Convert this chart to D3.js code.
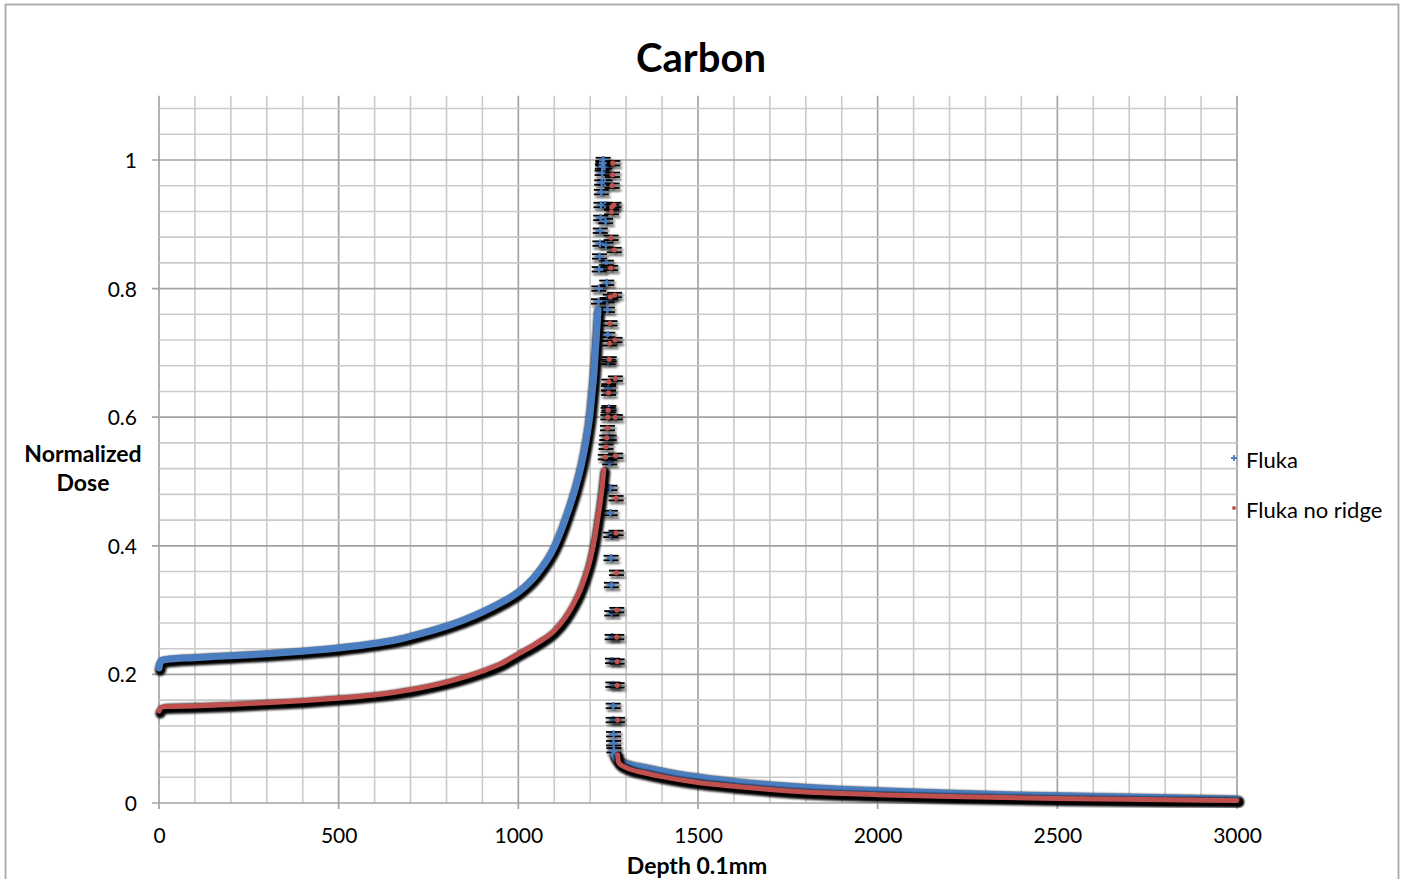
<!DOCTYPE html>
<html>
<head>
<meta charset="utf-8">
<script src="https://cdn.jsdelivr.net/npm/d3@7"></script>
<style>
  html, body { margin: 0; padding: 0; background: #fff; }
  svg { display: block; }
  text { font-family: Lato, "Open Sans", "DejaVu Sans", sans-serif; fill: #000; }
</style>
</head>
<body>
<svg id="chart" width="1404" height="879"></svg>
<script>
// ---- Axis ticks ----
const xTickValues = [0, 500, 1000, 1500, 2000, 2500, 3000];
const yTickValues = [0, 0.2, 0.4, 0.6, 0.8, 1];
const yTickLabels = ["0", "0.2", "0.4", "0.6", "0.8", "1"];

// ---- Series: Fluka ----
// entrance plateau and rise (continuous band of points)
const flukaEntranceDepth = [0, 3, 8, 20, 100, 200, 300, 400, 500, 600, 671, 700, 800, 850, 900, 950, 1000, 1050, 1100, 1135, 1160, 1177, 1190, 1200, 1205, 1210, 1216, 1222];
const flukaEntranceDose  = [0.21, 0.218, 0.222, 0.223, 0.226, 0.229, 0.232, 0.236, 0.241, 0.248, 0.255, 0.259, 0.275, 0.285, 0.297, 0.311, 0.328, 0.355, 0.398, 0.448, 0.492, 0.53, 0.568, 0.607, 0.636, 0.665, 0.715, 0.767];
// individual points around the Bragg peak
const flukaPeakDepth = [1223, 1224, 1225, 1226, 1227, 1228, 1229, 1230, 1231, 1232, 1233, 1234, 1235, 1236,
                        1240, 1241, 1242, 1243, 1244, 1245, 1246, 1247, 1248, 1249, 1250, 1251, 1252, 1253, 1254, 1255, 1256, 1257, 1258, 1259, 1260, 1261, 1262, 1263, 1264, 1264, 1265, 1265, 1266];
const flukaPeakDose  = [0.78, 0.80, 0.83, 0.85, 0.87, 0.89, 0.91, 0.93, 0.95, 0.965, 0.98, 0.99, 0.995, 1.0,
                        0.99, 0.965, 0.93, 0.905, 0.868, 0.84, 0.809, 0.782, 0.767, 0.728, 0.686, 0.645, 0.614, 0.568, 0.53, 0.49, 0.451, 0.417, 0.381, 0.339, 0.295, 0.258, 0.221, 0.184, 0.151, 0.129, 0.107, 0.093, 0.082];
// distal tail
const flukaTailDepth = [1266, 1275, 1290, 1300, 1350, 1400, 1450, 1500, 1600, 1700, 1800, 1900, 2000, 2200, 2400, 2600, 2800, 3000];
const flukaTailDose  = [0.075, 0.067, 0.063, 0.061, 0.055, 0.049, 0.044, 0.040, 0.033, 0.028, 0.024, 0.021, 0.019, 0.015, 0.012, 0.010, 0.008, 0.006];

// ---- Series: Fluka no ridge ----
const noRidgeEntranceDepth = [0, 5, 20, 100, 200, 300, 400, 500, 600, 700, 800, 900, 950, 1000, 1050, 1100, 1130, 1152, 1170, 1186, 1200, 1212, 1222, 1233, 1238];
const noRidgeEntranceDose  = [0.143, 0.148, 0.150, 0.151, 0.153, 0.156, 0.159, 0.163, 0.168, 0.176, 0.188, 0.205, 0.216, 0.232, 0.248, 0.268, 0.288, 0.308, 0.328, 0.352, 0.378, 0.41, 0.445, 0.49, 0.518];
const noRidgePeakDepth = [1242, 1244, 1246, 1248, 1249, 1250, 1251, 1252, 1253, 1254, 1255, 1256, 1257, 1258, 1259, 1260, 1261, 1262, 1263,
                          1266, 1267, 1268, 1269, 1270, 1270, 1271, 1272, 1272, 1273, 1274, 1274, 1275, 1275, 1276];
const noRidgePeakDose  = [0.538, 0.554, 0.568, 0.583, 0.60, 0.611, 0.638, 0.655, 0.69, 0.715, 0.746, 0.787, 0.832, 0.879, 0.919, 0.927, 0.96, 0.977, 0.995,
                          0.93, 0.86, 0.79, 0.72, 0.66, 0.60, 0.54, 0.474, 0.42, 0.358, 0.30, 0.258, 0.22, 0.183, 0.129];
const noRidgeTailDepth = [1276, 1280, 1300, 1350, 1400, 1500, 1600, 1700, 1800, 2000, 2200, 2500, 2800, 3000];
const noRidgeTailDose  = [0.075, 0.062, 0.055, 0.047, 0.041, 0.032, 0.026, 0.021, 0.017, 0.013, 0.010, 0.007, 0.005, 0.004];

// statistical uncertainty drawn as error bars
const doseError = 0.0035;

// ---- Layout ----
const svg = d3.select("#chart");
const plot = { left: 159, right: 1237, top: 95.7, bottom: 803 };

const x = d3.scaleLinear().domain([0, 3000]).range([plot.left, plot.right]);
const y = d3.scaleLinear().domain([0, 1.1]).range([plot.bottom, plot.top]);

const defs = svg.append("defs");
const shadow = defs.append("filter").attr("id", "shadow")
  .attr("x", "-20%").attr("y", "-20%").attr("width", "140%").attr("height", "140%");
shadow.append("feDropShadow").attr("dx", 1.5).attr("dy", 2.5).attr("stdDeviation", 1.2)
  .attr("flood-color", "#000").attr("flood-opacity", 0.85);
const blur = defs.append("filter").attr("id", "soft");
blur.append("feGaussianBlur").attr("stdDeviation", 1);

// outer frame
svg.append("rect").attr("x", 5.5).attr("y", 4.5).attr("width", 1393).attr("height", 890)
  .attr("fill", "none").attr("stroke", "#a8a8a8").attr("stroke-width", 1.8);

// ---- Grid ----
const grid = svg.append("g");
const minorColor = "#cbcbcb", majorColor = "#a3a3a3";

// vertical lines every 100
d3.range(0, 31).forEach(i => {
  const v = i * 100, major = i % 5 === 0;
  grid.append("line")
    .attr("x1", x(v)).attr("x2", x(v))
    .attr("y1", plot.top).attr("y2", major ? plot.bottom + 6 : plot.bottom)
    .attr("stroke", major ? majorColor : minorColor).attr("stroke-width", major ? 1.7 : 1.6);
});
// horizontal lines every 0.04
d3.range(0, 28).forEach(i => {
  const v = i * 0.04, major = i % 5 === 0;
  grid.append("line")
    .attr("x1", major ? plot.left - 7 : plot.left).attr("x2", plot.right)
    .attr("y1", y(v)).attr("y2", y(v))
    .attr("stroke", major ? majorColor : minorColor).attr("stroke-width", major ? 1.7 : 1.6);
});

// ---- Axes labels ----
const xAxis = d3.axisBottom(x).tickValues(xTickValues).tickSize(0).tickPadding(0).tickFormat(d3.format("d"));
const gx = svg.append("g").attr("transform", `translate(0,${plot.bottom})`).call(xAxis);
gx.select(".domain").remove();
gx.selectAll("text").attr("dy", null).attr("y", 40).attr("font-size", 21)
  .attr("font-family", "Lato, 'Open Sans', sans-serif").attr("fill", "#000");

const yAxis = d3.axisLeft(y).tickValues(yTickValues).tickSize(0).tickPadding(0)
  .tickFormat((d, i) => yTickLabels[i]);
const gy = svg.append("g").attr("transform", `translate(${plot.left},0)`).call(yAxis);
gy.select(".domain").remove();
gy.selectAll("text").attr("x", -22).attr("dy", "0.36em").attr("font-size", 21)
  .attr("font-family", "Lato, 'Open Sans', sans-serif").attr("fill", "#000");

// titles
svg.append("text").attr("x", 701).attr("y", 72).attr("text-anchor", "middle")
  .attr("font-size", 40).attr("font-weight", "bold").text("Carbon");
svg.append("text").attr("x", 697).attr("y", 874).attr("text-anchor", "middle")
  .attr("font-size", 23).attr("font-weight", "bold").text("Depth 0.1mm");
const yl = svg.append("text").attr("text-anchor", "middle").attr("font-size", 23).attr("font-weight", "bold");
yl.append("tspan").attr("x", 83).attr("y", 462).text("Normalized");
yl.append("tspan").attr("x", 83).attr("y", 491).text("Dose");

// ---- Series rendering ----
const zip = (a, b) => a.map((d, i) => [d, b[i]]);
const line = d3.line().x(d => x(d[0])).y(d => y(d[1])).curve(d3.curveMonotoneX);

const series = [
  { name: "Fluka", color: "#4a7ec0", band: 7, under: 11, marker: "plus",
    bands: [zip(flukaEntranceDepth, flukaEntranceDose), zip(flukaTailDepth, flukaTailDose)],
    points: zip(flukaPeakDepth, flukaPeakDose) },
  { name: "Fluka no ridge", color: "#c0504d", band: 5, under: 10, marker: "dot",
    bands: [zip(noRidgeEntranceDepth, noRidgeEntranceDose), zip(noRidgeTailDepth, noRidgeTailDose)],
    points: zip(noRidgePeakDepth, noRidgePeakDose) }
];

const capHalf = 7.5;
series.forEach(s => {
  const g = svg.append("g");
  // dark shadow beneath the dense bands (stacked error-bar caps)
  s.bands.forEach(b => {
    g.append("path").datum(b).attr("d", line)
      .attr("transform", "translate(1.5,2.4)")
      .attr("fill", "none").attr("stroke", "#000").attr("stroke-width", s.under)
      .attr("stroke-linecap", "round").attr("filter", "url(#soft)");
  });
  // error bars for individual points
  const eb = g.append("g").attr("filter", "url(#shadow)");
  s.points.forEach(p => {
    const cx = x(p[0]), y1 = y(p[1] + doseError), y2 = y(p[1] - doseError);
    eb.append("line").attr("x1", cx).attr("x2", cx).attr("y1", y1).attr("y2", y2)
      .attr("stroke", "#000").attr("stroke-width", 1.5);
    [y1, y2].forEach(yy => eb.append("line")
      .attr("x1", cx - capHalf).attr("x2", cx + capHalf).attr("y1", yy).attr("y2", yy)
      .attr("stroke", "#000").attr("stroke-width", 1.8));
  });
  // colored band
  s.bands.forEach(b => {
    g.append("path").datum(b).attr("d", line)
      .attr("fill", "none").attr("stroke", s.color).attr("stroke-width", s.band)
      .attr("stroke-linecap", "round");
  });
  // markers
  s.points.forEach(p => drawMarker(g, s, x(p[0]), y(p[1]), 1));
});

function drawMarker(g, s, cx, cy, k) {
  if (s.marker === "plus") {
    const r = 4 * k;
    g.append("path").attr("d", `M${cx - r},${cy}H${cx + r}M${cx},${cy - r}V${cy + r}`)
      .attr("stroke", s.color).attr("stroke-width", 2.4 * k).attr("fill", "none");
  } else {
    g.append("circle").attr("cx", cx).attr("cy", cy).attr("r", 2.6 * k).attr("fill", s.color);
  }
}

// ---- Legend ----
const legend = svg.append("g");
series.forEach((s, i) => {
  const ly = 460 + i * 50;
  drawMarker(legend, s, 1234, ly - 2, 0.75);
  legend.append("text").attr("x", 1246).attr("y", ly + 8).attr("font-size", 22).text(s.name);
});
</script>
</body>
</html>
